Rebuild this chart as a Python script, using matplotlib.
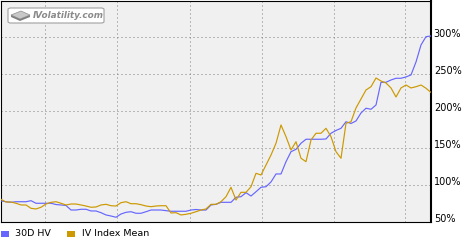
import numpy as np
import matplotlib
matplotlib.use('Agg')
import matplotlib.pyplot as plt
import matplotlib.transforms as mtransforms
from matplotlib.patches import FancyBboxPatch, Polygon, Rectangle

# 30 day historical volatility (%)
hv = [78.4, 77.4, 76.6, 77.4, 77.4, 77.4, 78.8, 75.3, 75.3, 75.3,
      75.3, 73.6, 73.0, 72.3, 66.2, 66.2, 67.2, 67.2, 64.9, 64.9,
      62.6, 59.5, 58.1, 56.4, 60.8, 63.1, 63.9, 61.8, 61.8, 63.9,
      66.2, 66.2, 66.2, 65.3, 64.5, 64.5, 64.5, 64.5, 66.2, 66.9,
      66.2, 66.2, 73.0, 73.9, 76.6, 76.6, 76.6, 83.4, 84.2, 89.6,
      85.1, 90.9, 96.9, 97.7, 104.1, 114.9, 114.9, 131.5, 145.0, 148.2,
      156.4, 161.8, 161.8, 161.8, 161.8, 162.2, 169.9, 173.7, 176.6, 185.5,
      183.1, 186.5, 197.3, 203.7, 202.3, 208.1, 238.8, 238.8, 241.9, 244.2,
      244.2, 246.0, 248.7, 266.2, 289.2, 300.4, 301.4]

# implied volatility index mean (%)
iv = [80.7, 77.0, 77.0, 75.3, 73.0, 73.0, 68.5, 67.6, 69.9, 74.3,
      76.6, 77.4, 75.3, 73.0, 74.3, 74.3, 73.0, 71.6, 69.9, 70.3,
      73.0, 73.9, 72.0, 71.6, 76.1, 77.4, 74.7, 74.7, 73.4, 71.6,
      70.7, 71.6, 72.0, 72.0, 62.2, 62.6, 59.5, 60.4, 61.8, 63.9,
      66.2, 67.6, 73.9, 73.9, 77.4, 84.2, 96.9, 79.7, 90.1, 90.1,
      97.7, 115.8, 113.5, 127.0, 140.5, 156.4, 181.1, 165.3, 147.3, 158.5,
      136.1, 131.5, 160.8, 169.9, 169.9, 176.6, 165.3, 145.0, 136.1, 183.4,
      185.5, 204.1, 216.2, 228.4, 232.8, 244.6, 240.5, 237.8, 231.1, 218.9,
      231.1, 235.1, 231.1, 232.8, 235.1, 230.7, 225.0]

y_ticks = [50, 100, 150, 200, 250, 300]
y_labels = ['50%', '100%', '150%', '200%', '250%', '300%']
# vertical grid (month boundaries), in sample index units
month_grid = [8.8, 23.2, 37.8, 52.2, 66.6, 80.8]

W, H = 470, 240
fig = plt.figure(figsize=(W / 100, H / 100), dpi=100)
fig.patch.set_facecolor('white')
ax = fig.add_axes([1 / W, 18 / H, 430 / W, 221 / H])
ax.set_facecolor('#f0f0f0')

x = np.arange(len(hv))
ax.plot(x, hv, color='#6666ff', lw=0.85, zorder=3)
ax.plot(x, iv, color='#cc9900', lw=0.85, zorder=4)

ax.set_xlim(0, len(hv) - 1)
ax.set_ylim(50, 348.6)

ax.set_xticks(month_grid)
ax.set_xticklabels([])
ax.yaxis.tick_right()
ax.set_yticks(y_ticks)
ax.set_yticklabels(y_labels)
ax.tick_params(axis='x', length=0)
ax.tick_params(axis='y', length=0, pad=2, labelsize=7)
ax.grid(True, color='#808080', linestyle=(0, (1, 3)), lw=0.72, zorder=1)

for s in ax.spines.values():
    s.set_color('black')
    s.set_linewidth(0.8)
ax.spines['right'].set_linewidth(1.5)

# nudge the labels up a little, like the original
off = mtransforms.ScaledTranslation(0, 3.5 / 100, fig.dpi_scale_trans)
for lbl in ax.get_yticklabels():
    lbl.set_transform(lbl.get_transform() + off)

# watermark box
fig.patches.append(FancyBboxPatch((8 / W, 1 - 23 / H), 96 / W, 15 / H,
                                  boxstyle='round,pad=0,rounding_size=0.006',
                                  transform=fig.transFigure, facecolor='white',
                                  edgecolor='#a0a0a0', lw=0.8, zorder=5))
fig.patches.append(Polygon([(11 / W, 1 - 15 / H), (21 / W, 1 - 11 / H),
                            (30 / W, 1 - 15 / H), (20 / W, 1 - 19 / H)],
                           transform=fig.transFigure, facecolor='#c8c8c8',
                           edgecolor='#909090', lw=0.5, zorder=6))
fig.patches.append(Polygon([(11 / W, 1 - 15 / H), (20 / W, 1 - 19 / H),
                            (30 / W, 1 - 15 / H), (30 / W, 1 - 17 / H),
                            (20 / W, 1 - 21 / H), (11 / W, 1 - 17 / H)],
                           transform=fig.transFigure, facecolor='#808080',
                           edgecolor='none', zorder=6))
fig.text(33 / W, 1 - 15 / H, 'IVolatility.com', fontsize=6.4, color='#8a8a8a',
         style='italic', fontweight='bold', va='center', ha='left', zorder=7)

# legend
fig.patches.append(Rectangle((1 / W, 1 - 237 / H), 8 / W, 6 / H,
                             transform=fig.transFigure, facecolor='#6666ff'))
fig.text(15 / W, 1 - 234 / H, '30D HV', fontsize=6.8, va='center', ha='left')
fig.patches.append(Rectangle((67 / W, 1 - 237 / H), 8 / W, 6 / H,
                             transform=fig.transFigure, facecolor='#cc9900'))
fig.text(82 / W, 1 - 234 / H, 'IV Index Mean', fontsize=6.8, va='center', ha='left')

fig.savefig('out.png', dpi=100)
